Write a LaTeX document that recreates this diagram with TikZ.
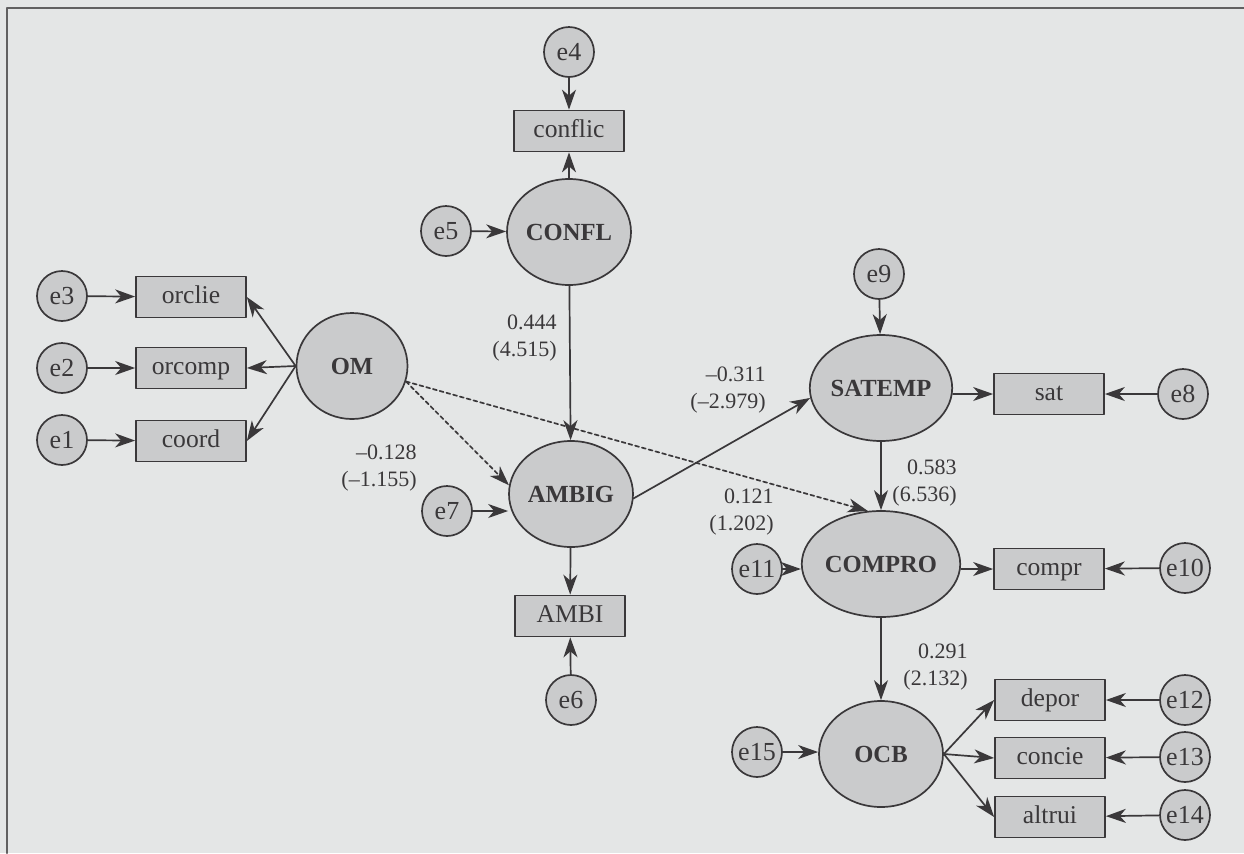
\documentclass[tikz,border=0pt]{standalone}
\usepackage{fontspec}
\setmainfont{Liberation Serif}
\usetikzlibrary{arrows.meta,shapes.geometric}
\definecolor{paper}{RGB}{228,230,230}
\definecolor{boxfill}{RGB}{202,203,204}
\definecolor{ink}{RGB}{58,56,58}

\begin{document}
\begin{tikzpicture}[line cap=round,line join=round,>={Stealth[length=10pt,width=7pt,inset=3pt]},x=0.5pt,y=-0.5pt,
		errvar/.style={circle,draw=ink,fill=boxfill,line width=0.85pt,minimum size=25pt,inner sep=0pt,text=ink,font=\fontsize{13}{13}\selectfont},
		obsvar/.style={rectangle,draw=ink,fill=boxfill,line width=0.85pt,minimum width=55pt,minimum height=20.5pt,inner sep=0pt,text height=8.6pt,text depth=2.6pt,text=ink,font=\fontsize{12.8}{13}\selectfont},
		latvar/.style={ellipse,draw=ink,fill=boxfill,line width=0.85pt,minimum width=62pt,minimum height=53pt,inner sep=0pt,text=ink,font=\bfseries\fontsize{12.3}{13}\selectfont},
		coef/.style={anchor=east,align=right,inner sep=0pt,text=ink,font=\fontsize{11}{13.5}\selectfont},
		sig/.style={->,draw=ink,line width=0.85pt},
		nonsig/.style={sig,dash pattern=on 2pt off 1.5pt}]
			\useasboundingbox (0,0) rectangle (1244,853);
			\fill [paper] (0,0) rectangle (1244,853);
			\draw [color=ink!80,line width=1pt] (7,853)-- (7,8)-- (1244,8);
			% latent variables
			\node [latvar,minimum width=55.5pt] (OM) at (352,366) {OM};
			\node [latvar] (CONFL) at (569,232) {CONFL};
			\node [latvar] (AMBIG) at (571,494) {AMBIG};
			\node [latvar] (SATEMP) at (881,388) {SATEMP};
			\node [latvar] (COMPRO) at (881,564) {COMPRO};
			\node [latvar] (OCB) at (881,754) {OCB};
			% indicators
			\node [obsvar] (orclie) at (191,297) {orclie};
			\node [obsvar] (orcomp) at (191,368) {orcomp};
			\node [obsvar] (coord) at (191,441) {coord};
			\node [obsvar] (conflic) at (569,131) {conflic};
			\node [obsvar] (AMBI) at (570,616) {AMBI};
			\node [obsvar] (sat) at (1049,394) {sat};
			\node [obsvar] (compr) at (1049,569) {compr};
			\node [obsvar] (depor) at (1050,700) {depor};
			\node [obsvar] (concie) at (1050,758) {concie};
			\node [obsvar] (altrui) at (1050,817) {altrui};
			% errors
			\node [errvar] (e1) at (62,440) {e1};
			\node [errvar] (e2) at (62,368) {e2};
			\node [errvar] (e3) at (62,296) {e3};
			\node [errvar] (e4) at (569,52) {e4};
			\node [errvar] (e5) at (446,231) {e5};
			\node [errvar] (e6) at (571,700) {e6};
			\node [errvar] (e7) at (447,511) {e7};
			\node [errvar] (e8) at (1183,394) {e8};
			\node [errvar] (e9) at (879,274) {e9};
			\node [errvar] (e10) at (1185,568) {e10};
			\node [errvar] (e11) at (757,569) {e11};
			\node [errvar] (e12) at (1185,700) {e12};
			\node [errvar] (e13) at (1185,757) {e13};
			\node [errvar] (e14) at (1185,815) {e14};
			\node [errvar] (e15) at (757,752) {e15};
			% measurement paths
			\draw [sig] (OM.west)-- (orclie.east);
			\draw [sig] (OM.west)-- (orcomp.east);
			\draw [sig] (OM.west)-- (coord.east);
			\draw [sig] (e3)-- (orclie);
			\draw [sig] (e2)-- (orcomp);
			\draw [sig] (e1)-- (coord);
			\draw [sig] (e4)-- (conflic);
			\draw [sig] (CONFL)-- (conflic);
			\draw [sig] (AMBIG)-- (AMBI);
			\draw [sig] (e6)-- (AMBI);
			\draw [sig] (SATEMP.east |- sat.west)-- (sat.west);
			\draw [sig] (e8)-- (sat);
			\draw [sig] (COMPRO.east |- compr.west)-- (compr.west);
			\draw [sig] (e10)-- (compr);
			\draw [sig] (OCB.east)-- (depor.west);
			\draw [sig] (OCB.east)-- (concie.west);
			\draw [sig] (OCB.east)-- (altrui.west);
			\draw [sig] (e12)-- (depor);
			\draw [sig] (e13)-- (concie);
			\draw [sig] (e14)-- (altrui);
			% disturbances
			\draw [sig] (e5)-- (CONFL);
			\draw [sig] (e7.east)-- (e7.east -| AMBIG.west);
			\draw [sig] (e9)-- (SATEMP);
			\draw [sig] (e11.east)-- (e11.east -| COMPRO.west);
			\draw [sig] (e15.east)-- (e15.east -| OCB.west);
			% structural paths
			\draw [sig] (CONFL)-- (AMBIG);
			\draw [sig] (AMBIG.-4)-- (SATEMP.188);
			\draw [sig] (SATEMP)-- (COMPRO);
			\draw [sig] (COMPRO)-- (OCB);
			\draw [nonsig] (OM.-16)-- (AMBIG.172);
			\draw [nonsig] (OM.-16)-- (COMPRO.104);
			% coefficients
			\node [coef] (cAMBIG) at (557,338) {0.444\\(4.515)};
			\node [coef] (cOMAMBIG) at (417,468) {–0.128\\(–1.155)};
			\node [coef] (cSATEMP) at (766,390) {–0.311\\(–2.979)};
			\node [coef] (cOMCOMPRO) at (774,512) {0.121\\(1.202)};
			\node [coef] (cCOMPRO) at (957,483) {0.583\\(6.536)};
			\node [coef] (cOCB) at (968,667) {0.291\\(2.132)};
\end{tikzpicture}
\end{document}
